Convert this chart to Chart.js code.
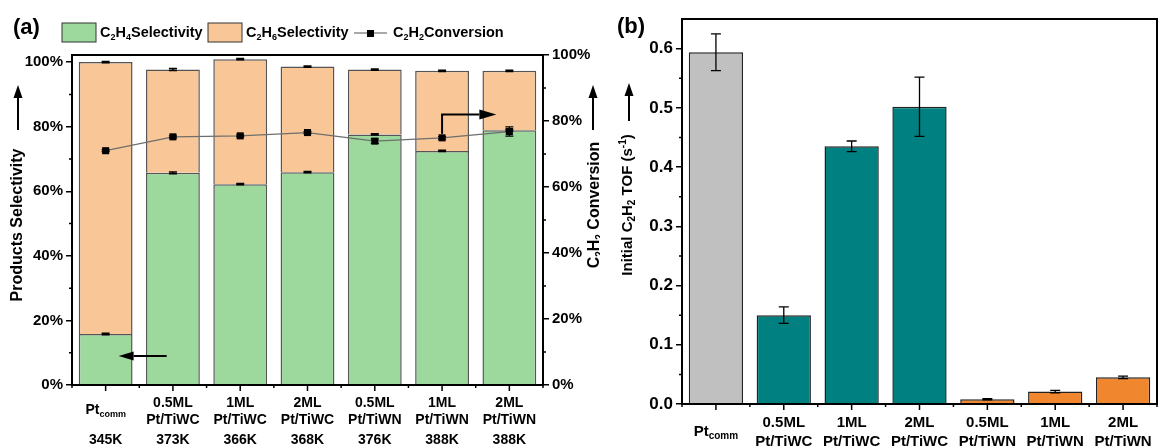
<!DOCTYPE html>
<html>
<head>
<meta charset="utf-8">
<script src="https://cdn.jsdelivr.net/npm/chart.js@4"></script>
<style>
  body { margin: 0; background: #fff; }
  #wrap { position: relative; width: 1164px; height: 446px; }
  canvas { position: absolute; top: 0; }
  #selChart { left: 0; }
  #tofChart { left: 600px; }
</style>
</head>
<body>
<div id="wrap">
  <canvas id="selChart" width="600" height="446"></canvas>
  <canvas id="tofChart" width="564" height="446"></canvas>
</div>
<script>
// catalysts and reaction temperatures
const catalysts = ['Pt_{comm}', '0.5ML Pt/TiWC', '1ML Pt/TiWC', '2ML Pt/TiWC', '0.5ML Pt/TiWN', '1ML Pt/TiWN', '2ML Pt/TiWN'];
const temperatures = ['345K', '373K', '366K', '368K', '376K', '388K', '388K'];

// (a) product selectivity (%) and acetylene conversion (%)
const c2h4Sel = [15.8, 65.7, 62.2, 65.9, 77.6, 72.5, 78.9];
const c2h6Sel = [84.2, 32.0, 38.7, 32.7, 20.1, 24.8, 18.4];
const c2h4Err = [0.2, 0.3, 0.2, 0.2, 0.2, 0.2, 0.3];
const c2h6Err = [0.2, 0.3, 0.2, 0.2, 0.2, 0.2, 0.2];
const conversion = [71.0, 75.2, 75.5, 76.5, 73.9, 74.9, 76.8];
const conversionErr = [0.3, 0.3, 0.3, 0.3, 0.7, 0.4, 1.4];
const percentTicks = [0, 20, 40, 60, 80, 100];

// (b) initial TOF (s^-1)
const tof = [0.594, 0.150, 0.435, 0.502, 0.008, 0.021, 0.045];
const tofErr = [0.031, 0.014, 0.009, 0.050, 0.001, 0.002, 0.002];
const tofTicks = [0, 0.1, 0.2, 0.3, 0.4, 0.5, 0.6];
const tofColors = ['#c0c0c0', '#008080', '#008080', '#008080', '#f0872e', '#f0872e', '#f0872e'];

const FONT = '"Liberation Sans", Arial, sans-serif';
Chart.defaults.font.family = FONT;
Chart.defaults.font.weight = 'bold';
Chart.defaults.color = '#000';
Chart.defaults.animation = false;

// text with _{sub} and ^{sup} markup
function parseRich(str) {
  const parts = [];
  let buf = '', i = 0;
  const flush = () => { if (buf) { parts.push({ t: buf, m: 0 }); buf = ''; } };
  while (i < str.length) {
    const c = str[i];
    if (c === '_' || c === '^') {
      flush();
      let t;
      if (str[i + 1] === '{') { const j = str.indexOf('}', i); t = str.slice(i + 2, j); i = j + 1; }
      else { t = str[i + 1]; i += 2; }
      parts.push({ t, m: c === '_' ? 1 : -1 });
    } else { buf += c; i++; }
  }
  flush();
  return parts;
}

function richText(ctx, str, x, y, size, align) {
  const parts = parseRich(str);
  const small = Math.round(size * 0.65);
  ctx.textBaseline = 'middle';
  ctx.textAlign = 'left';
  ctx.fillStyle = '#000';
  let w = 0;
  parts.forEach(p => {
    ctx.font = `bold ${p.m ? small : size}px ${FONT}`;
    p.w = ctx.measureText(p.t).width;
    w += p.w;
  });
  let cx = align === 'center' ? x - w / 2 : align === 'right' ? x - w : x;
  parts.forEach(p => {
    ctx.font = `bold ${p.m ? small : size}px ${FONT}`;
    const dy = p.m === 1 ? size * 0.3 : p.m === -1 ? -size * 0.35 : 0;
    ctx.fillText(p.t, cx, y + dy);
    cx += p.w;
  });
  return w;
}

function rotatedText(ctx, str, x, y, size) {
  ctx.save();
  ctx.translate(x, y);
  ctx.rotate(-Math.PI / 2);
  richText(ctx, str, 0, 0, size, 'center');
  ctx.restore();
}

function arrowHead(ctx, x1, y1, x2, y2, head, half) {
  const a = Math.atan2(y2 - y1, x2 - x1);
  const bx = x2 - head * Math.cos(a), by = y2 - head * Math.sin(a);
  ctx.beginPath();
  ctx.moveTo(x1, y1);
  ctx.lineTo(bx, by);
  ctx.lineWidth = 2;
  ctx.strokeStyle = '#000';
  ctx.stroke();
  ctx.beginPath();
  ctx.moveTo(x2, y2);
  ctx.lineTo(bx - half * Math.sin(a), by + half * Math.cos(a));
  ctx.lineTo(bx + half * Math.sin(a), by - half * Math.cos(a));
  ctx.closePath();
  ctx.fillStyle = '#000';
  ctx.fill();
}

function errorBar(ctx, x, yHi, yLo, cap, lw) {
  ctx.strokeStyle = '#000';
  ctx.lineWidth = lw;
  ctx.beginPath();
  ctx.moveTo(x, yHi); ctx.lineTo(x, yLo);
  ctx.moveTo(x - cap, yHi); ctx.lineTo(x + cap, yHi);
  ctx.moveTo(x - cap, yLo); ctx.lineTo(x + cap, yLo);
  ctx.stroke();
}

function frameAndTicks(ctx, chart, xs, yScales) {
  const { left, right, top, bottom } = chart.chartArea;
  ctx.strokeStyle = '#000';
  ctx.lineWidth = 2;
  ctx.strokeRect(left, top, right - left, bottom - top);
  ctx.lineWidth = 1.5;
  ctx.beginPath();
  const n = catalysts.length;
  for (let i = 0; i < n; i++) {
    const x = xs.getPixelForValue(i);
    ctx.moveTo(x, bottom); ctx.lineTo(x, bottom + 6);
  }
  for (let i = 0; i <= n; i++) {
    const x = left + (right - left) * i / n;
    ctx.moveTo(x, bottom); ctx.lineTo(x, bottom + 3);
  }
  yScales.forEach(({ scale, minors, side }) => {
    minors.forEach(v => {
      const y = scale.getPixelForValue(v);
      const x0 = side === 'left' ? left : right;
      ctx.moveTo(x0, y); ctx.lineTo(side === 'left' ? x0 - 3 : x0 + 3, y);
    });
  });
  ctx.stroke();
}

function categoryLabels(ctx, xs, rows, size, tempY) {
  catalysts.forEach((c, i) => {
    const x = xs.getPixelForValue(i);
    const words = c.split(' ');
    if (words.length > 1) {
      richText(ctx, words[0], x, rows[0], size, 'center');
      richText(ctx, words[1], x, rows[1], size, 'center');
    } else {
      richText(ctx, c, x, (rows[0] + rows[1]) / 2 - 1, size, 'center');
    }
    if (tempY) richText(ctx, temperatures[i], x, tempY, size, 'center');
  });
}

const fixedTicks = values => scale => { scale.ticks = values.map(v => ({ value: v })); };

// (a) stacked selectivity bars with conversion line
const selDecor = {
  id: 'selDecor',
  afterDraw(chart) {
    const ctx = chart.ctx;
    const xs = chart.scales.x, ys = chart.scales.y, y1 = chart.scales.y1;
    ctx.save();
    frameAndTicks(ctx, chart, xs, [
      { scale: ys, minors: [10, 30, 50, 70, 90], side: 'left' },
      { scale: y1, minors: [10, 30, 50, 70, 90], side: 'right' }
    ]);

    catalysts.forEach((c, i) => {
      const x = xs.getPixelForValue(i);
      const g = c2h4Sel[i], t = c2h4Sel[i] + c2h6Sel[i];
      errorBar(ctx, x, ys.getPixelForValue(g + c2h4Err[i]), ys.getPixelForValue(g - c2h4Err[i]), 4, 1.5);
      errorBar(ctx, x, ys.getPixelForValue(t + c2h6Err[i]), ys.getPixelForValue(t - c2h6Err[i]), 4, 1.5);
      const cv = conversion[i];
      errorBar(ctx, x, y1.getPixelForValue(cv + conversionErr[i]), y1.getPixelForValue(cv - conversionErr[i]), 4, 1.2);
    });

    // arrows pointing to the axis each series belongs to
    const x0 = xs.getPixelForValue(0);
    const yArrow = ys.getPixelForValue(9);
    arrowHead(ctx, x0 + 61, yArrow, x0 + 13, yArrow, 15, 4.5);
    const xe = xs.getPixelForValue(5);
    const yStart = y1.getPixelForValue(conversion[5]) - 4;
    const yTurn = y1.getPixelForValue(82);
    ctx.beginPath();
    ctx.moveTo(xe, yStart); ctx.lineTo(xe, yTurn);
    ctx.lineWidth = 2; ctx.stroke();
    arrowHead(ctx, xe - 1, yTurn, xs.getPixelForValue(6) - 13, yTurn, 17, 5);

    categoryLabels(ctx, xs, [403, 420], 14, 440);

    rotatedText(ctx, 'Products Selectivity', 18, 225, 16);
    arrowHead(ctx, 18, 130, 18, 85, 13, 4.5);
    rotatedText(ctx, 'C_2H_2 Conversion', 595, 205, 16);
    arrowHead(ctx, 593, 130, 593, 85, 13, 4.5);

    // legend
    ctx.lineWidth = 1;
    ctx.strokeStyle = '#333';
    ctx.fillStyle = '#9dd99d';
    ctx.fillRect(62, 23, 34, 19); ctx.strokeRect(62, 23, 34, 19);
    richText(ctx, 'C_2H_4Selectivity', 100, 33, 14.5, 'left');
    ctx.fillStyle = '#f9c797';
    ctx.fillRect(208, 23, 34, 19); ctx.strokeRect(208, 23, 34, 19);
    richText(ctx, 'C_2H_6Selectivity', 246, 33, 14.5, 'left');
    ctx.strokeStyle = '#555';
    ctx.lineWidth = 1.2;
    ctx.beginPath(); ctx.moveTo(354, 33); ctx.lineTo(387, 33); ctx.stroke();
    ctx.fillStyle = '#000';
    ctx.fillRect(367, 30, 7, 7);
    richText(ctx, 'C_2H_2Conversion', 393, 33, 14.5, 'left');

    richText(ctx, '(a)', 13, 28, 22, 'left');
    ctx.restore();
  }
};

new Chart(document.getElementById('selChart'), {
  type: 'bar',
  data: {
    labels: catalysts,
    datasets: [
      {
        type: 'line',
        label: 'C2H2Conversion',
        data: conversion,
        yAxisID: 'y1',
        borderColor: '#6e6e6e',
        borderWidth: 1.2,
        pointStyle: 'rect',
        pointRadius: 5,
        pointBackgroundColor: '#000',
        pointBorderColor: '#000',
        pointBorderWidth: 0,
        order: 0
      },
      {
        label: 'C2H4Selectivity',
        data: c2h4Sel,
        backgroundColor: '#9dd99d',
        borderColor: '#555',
        borderWidth: 1.5,
        barPercentage: 0.8,
        categoryPercentage: 1.0,
        order: 1
      },
      {
        label: 'C2H6Selectivity',
        data: c2h6Sel,
        backgroundColor: '#f9c797',
        borderColor: '#555',
        borderWidth: 1.5,
        barPercentage: 0.8,
        categoryPercentage: 1.0,
        order: 1
      }
    ]
  },
  options: {
    responsive: false,
    layout: { padding: { top: 55, left: 0, right: 0, bottom: 0 } },
    plugins: { legend: { display: false }, tooltip: { enabled: false } },
    scales: {
      x: {
        stacked: true,
        grid: { display: false },
        border: { display: false },
        ticks: { display: false },
        afterFit: s => { s.height = 61; }
      },
      y: {
        stacked: true,
        min: 0,
        max: 102.2,
        afterBuildTicks: fixedTicks(percentTicks),
        ticks: { font: { size: 15, weight: 'bold' }, padding: 3, callback: v => v + '%' },
        grid: { drawOnChartArea: false, tickLength: 6, color: '#000', lineWidth: 1.5 },
        border: { display: false },
        afterFit: s => { s.width = 72; }
      },
      y1: {
        position: 'right',
        min: 0,
        max: 100,
        afterBuildTicks: fixedTicks(percentTicks),
        ticks: { font: { size: 15, weight: 'bold' }, padding: 3, callback: v => v + '%' },
        grid: { drawOnChartArea: false, tickLength: 6, color: '#000', lineWidth: 1.5 },
        border: { display: false },
        afterFit: s => { s.width = 57; }
      }
    }
  },
  plugins: [selDecor]
});

// (b) initial TOF bars
const tofDecor = {
  id: 'tofDecor',
  afterDraw(chart) {
    const ctx = chart.ctx;
    const xs = chart.scales.x, ys = chart.scales.y;
    ctx.save();
    frameAndTicks(ctx, chart, xs, [
      { scale: ys, minors: [0.05, 0.15, 0.25, 0.35, 0.45, 0.55], side: 'left' }
    ]);
    tof.forEach((v, i) => {
      const x = xs.getPixelForValue(i);
      errorBar(ctx, x, ys.getPixelForValue(v + tofErr[i]), ys.getPixelForValue(v - tofErr[i]), 5, 1.3);
    });
    categoryLabels(ctx, xs, [423, 442], 15, null);
    rotatedText(ctx, 'Initial C_2H_2 TOF (s^{-1})', 28, 205, 15);
    arrowHead(ctx, 29, 121, 29, 83, 13, 4.5);
    richText(ctx, '(b)', 17, 27, 22, 'left');
    ctx.restore();
  }
};

new Chart(document.getElementById('tofChart'), {
  type: 'bar',
  data: {
    labels: catalysts,
    datasets: [{
      label: 'TOF',
      data: tof,
      backgroundColor: tofColors,
      borderColor: '#222',
      borderWidth: 1.5,
      barPercentage: 0.8,
      categoryPercentage: 1.0
    }]
  },
  options: {
    responsive: false,
    layout: { padding: { top: 19, left: 0, right: 7, bottom: 0 } },
    plugins: { legend: { display: false }, tooltip: { enabled: false } },
    scales: {
      x: {
        grid: { display: false },
        border: { display: false },
        ticks: { display: false },
        afterFit: s => { s.height = 42; }
      },
      y: {
        min: 0,
        max: 0.65,
        afterBuildTicks: fixedTicks(tofTicks),
        ticks: { font: { size: 17, weight: 'bold' }, padding: 3, callback: v => v.toFixed(1) },
        grid: { drawOnChartArea: false, tickLength: 6, color: '#000', lineWidth: 1.5 },
        border: { display: false },
        afterFit: s => { s.width = 82; }
      }
    }
  },
  plugins: [tofDecor]
});
</script>
</body>
</html>
